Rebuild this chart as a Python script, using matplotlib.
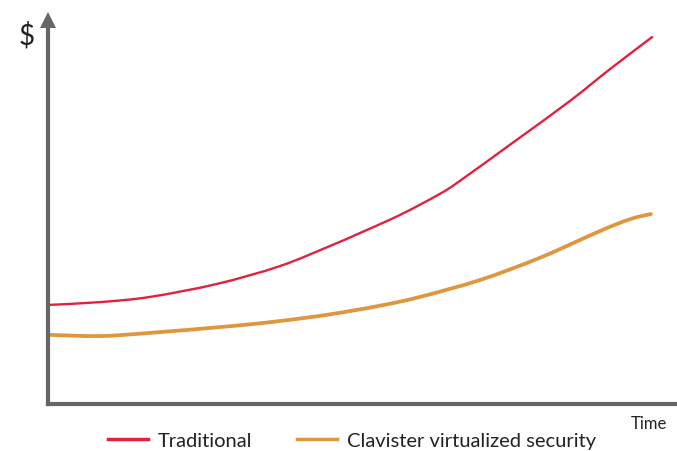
import numpy as np
import matplotlib.pyplot as plt
from matplotlib.lines import Line2D
from matplotlib.path import Path
from matplotlib.patches import PathPatch

plt.rcParams['font.family'] = ['Lato', 'DejaVu Sans']

# cost over time, arbitrary units (0-100 on both axes)
time_traditional = [0.3, 8.3, 16.2, 26.9, 36.9, 44.9, 49.7, 56.1, 62.4, 65.6, 74.4, 83.1, 89.5, 96.2]
cost_traditional = [25.1, 25.8, 27.1, 30.4, 34.9, 40.0, 43.3, 47.9, 53.2, 56.5, 66.6, 76.7, 84.8, 92.9]

time_virtual = [0.3, 8.3, 16.2, 29.0, 36.9, 44.9, 52.9, 59.2, 68.8, 78.3, 87.9, 92.7, 96.0]
cost_virtual = [17.5, 17.2, 18.0, 19.7, 21.0, 22.7, 24.9, 27.1, 31.4, 37.0, 43.8, 46.8, 48.1]

labels = ['Traditional', 'Clavister virtualized security']
colors = ['#E3213F', '#E0953F']
axis_color = '#666666'


def smooth_path(x, y):
    # Catmull-Rom style smoothed line through the points, as cubic beziers
    pts = np.column_stack([x, y])
    n = len(pts)
    verts = [pts[0]]
    codes = [Path.MOVETO]
    for i in range(n - 1):
        p0 = pts[max(i - 1, 0)]
        p1 = pts[i]
        p2 = pts[i + 1]
        p3 = pts[min(i + 2, n - 1)]
        verts += [p1 + (p2 - p0) / 6, p2 - (p3 - p1) / 6, p2]
        codes += [Path.CURVE4] * 3
    return Path(verts, codes)


fig = plt.figure(figsize=(6.77, 4.52), dpi=100)
ax = fig.add_axes([48 / 677, 47 / 452, 628 / 677, 395 / 452])

ax.add_patch(PathPatch(smooth_path(time_traditional, cost_traditional), fill=False,
                       edgecolor=colors[0], lw=1.7, capstyle='round', joinstyle='round'))
ax.add_patch(PathPatch(smooth_path(time_virtual, cost_virtual), fill=False,
                       edgecolor=colors[1], lw=2.7, capstyle='round', joinstyle='round'))

ax.set_xlim(0, 100)
ax.set_ylim(0, 100)
ax.set_xticks([])
ax.set_yticks([])
for side in ['top', 'right']:
    ax.spines[side].set_visible(False)
for side in ['left', 'bottom']:
    ax.spines[side].set_color(axis_color)
    ax.spines[side].set_linewidth(3)
ax.spines['left'].set_bounds(0, 97)

# arrow head on the y axis
ax.plot([0], [97.2], marker='^', markersize=11, color=axis_color,
        clip_on=False, markeredgewidth=0)

fig.text(27 / 677, 1 - 36 / 452, '$', fontsize=20, color='#222222',
         ha='center', va='center')
fig.text(649 / 677, 1 - 424 / 452, 'Time', fontsize=12, color='#222222',
         ha='center', va='center')

handles = [Line2D([], [], color=colors[0], lw=2.5),
           Line2D([], [], color=colors[1], lw=2.5)]
fig.legend(handles, labels, loc='center', bbox_to_anchor=(352 / 677, 1 - 441 / 452),
           ncol=2, frameon=False, fontsize=14.5, handlelength=2.0,
           handletextpad=0.5, columnspacing=2.2, labelcolor='#222222')

fig.savefig('out.png', dpi=100, facecolor='white')
